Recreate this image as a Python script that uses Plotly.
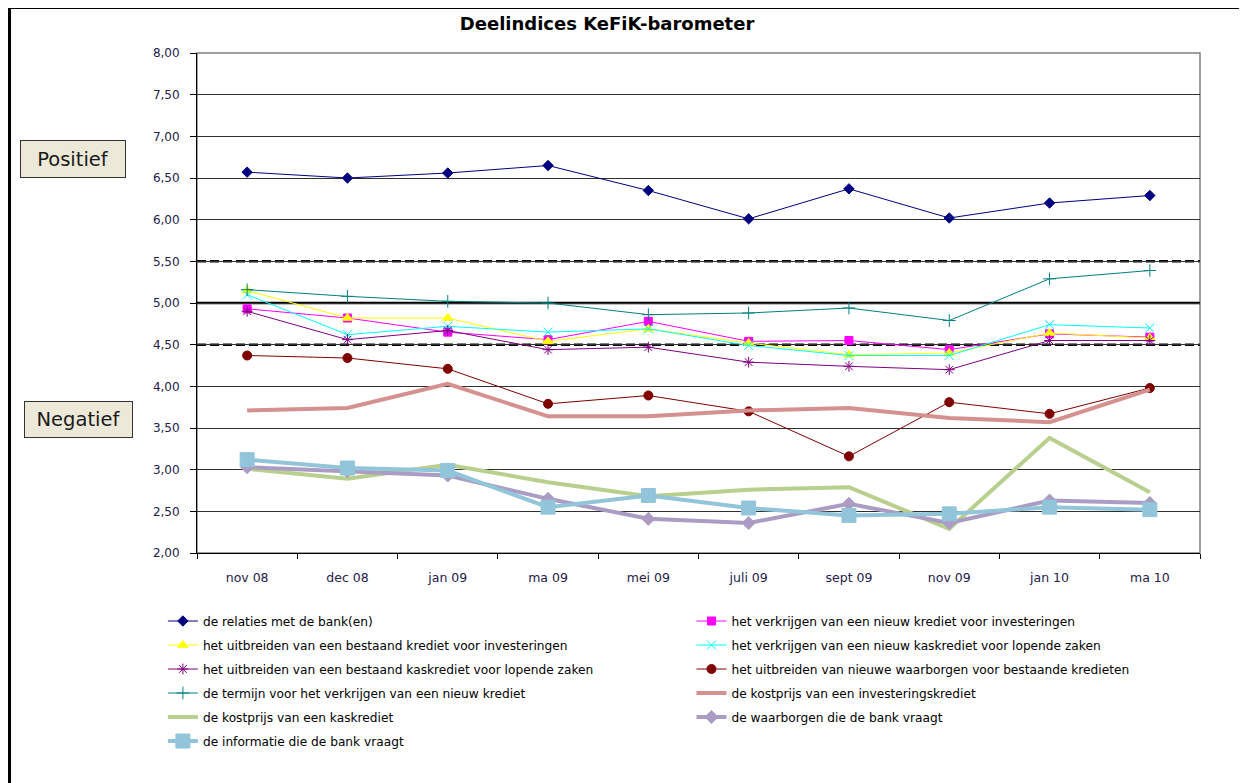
import plotly.graph_objects as go

categories = ["nov 08", "dec 08", "jan 09", "ma 09", "mei 09", "juli 09", "sept 09", "nov 09", "jan 10", "ma 10"]

relaties_bank = [6.57, 6.50, 6.56, 6.65, 6.35, 6.01, 6.37, 6.02, 6.20, 6.29]
nieuw_krediet_invest = [4.93, 4.82, 4.65, 4.56, 4.78, 4.54, 4.55, 4.44, 4.63, 4.59]
uitbreiden_krediet_invest = [5.15, 4.82, 4.82, 4.54, 4.69, 4.52, 4.38, 4.40, 4.64, 4.58]
nieuw_kaskrediet = [5.10, 4.62, 4.72, 4.65, 4.69, 4.49, 4.37, 4.37, 4.74, 4.70]
uitbreiden_kaskrediet = [4.90, 4.56, 4.67, 4.44, 4.47, 4.29, 4.24, 4.20, 4.55, 4.55]
nieuwe_waarborgen = [4.37, 4.34, 4.21, 3.79, 3.89, 3.70, 3.16, 3.81, 3.67, 3.98]
termijn_krediet = [5.16, 5.08, 5.02, 5.00, 4.86, 4.88, 4.94, 4.79, 5.29, 5.39]
kostprijs_invest = [3.71, 3.74, 4.03, 3.64, 3.64, 3.71, 3.74, 3.62, 3.57, 3.96]
kostprijs_kas = [3.01, 2.89, 3.06, 2.85, 2.68, 2.76, 2.79, 2.29, 3.38, 2.73]
waarborgen_bank = [3.03, 2.98, 2.93, 2.65, 2.41, 2.36, 2.59, 2.36, 2.63, 2.60]
informatie_bank = [3.12, 3.02, 2.99, 2.55, 2.69, 2.54, 2.45, 2.47, 2.55, 2.52]

y_ticks = [2.0, 2.5, 3.0, 3.5, 4.0, 4.5, 5.0, 5.5, 6.0, 6.5, 7.0, 7.5, 8.0]
neutral_line = 5.0
band_lines = [4.5, 5.5]

series = [
    ("de relaties met de bank(en)", relaties_bank, "#000080", 1, "diamond", 8, "legend"),
    ("het verkrijgen van een nieuw krediet voor investeringen", nieuw_krediet_invest, "#FF00FF", 1, "square", 8, "legend2"),
    ("het uitbreiden van een bestaand krediet voor investeringen", uitbreiden_krediet_invest, "#FFFF00", 1, "triangle-up", 9, "legend"),
    ("het verkrijgen van een nieuw kaskrediet voor lopende zaken", nieuw_kaskrediet, "#00FFFF", 1, "x-thin-open", 9, "legend2"),
    ("het uitbreiden van een bestaand kaskrediet voor lopende zaken", uitbreiden_kaskrediet, "#800080", 1, "asterisk-open", 9, "legend"),
    ("het uitbreiden van nieuwe waarborgen voor bestaande kredieten", nieuwe_waarborgen, "#800000", 1, "circle", 9, "legend2"),
    ("de termijn voor het verkrijgen van een nieuw krediet", termijn_krediet, "#008080", 1, "cross-thin-open", 9, "legend"),
    ("de kostprijs van een investeringskrediet", kostprijs_invest, "#D4918F", 4, None, 0, "legend2"),
    ("de kostprijs van een kaskrediet", kostprijs_kas, "#B8CF8E", 4, None, 0, "legend"),
    ("de waarborgen die de bank vraagt", waarborgen_bank, "#AB9CC3", 4, "diamond", 10, "legend2"),
    ("de informatie die de bank vraagt", informatie_bank, "#92C5DA", 4, "square", 14, "legend"),
]

fig = go.Figure()
for i, (name, vals, color, lw, sym, size, leg) in enumerate(series):
    if sym is None:
        mode = "lines"
        marker = None
    else:
        mode = "lines+markers"
        marker = dict(symbol=sym, size=size, color=color, line=dict(color=color, width=1))
    fig.add_trace(go.Scatter(
        x=categories, y=vals, name=name, mode=mode,
        line=dict(color=color, width=lw),
        marker=marker, legend=leg, legendgroup=f"g{i}",
    ))

shapes = [
    dict(type="rect", xref="paper", yref="paper", x0=0, x1=1, y0=0, y1=1,
         line=dict(color="#808080", width=1.5), layer="below"),
    dict(type="rect", xref="paper", yref="paper", x0=-0.1874, x1=1.08, y0=-0.6, y1=1.092,
         line=dict(color="black", width=4), layer="above"),
    dict(type="line", xref="paper", yref="y", x0=0, x1=1, y0=neutral_line, y1=neutral_line,
         line=dict(color="black", width=2.5), layer="below"),
]
for b in band_lines:
    shapes.append(dict(type="line", xref="paper", yref="y", x0=0, x1=1, y0=b, y1=b,
                       line=dict(color="white", width=3), layer="below"))
    shapes.append(dict(type="line", xref="paper", yref="y", x0=0, x1=1, y0=b, y1=b,
                       line=dict(color="black", width=2.5, dash="9px,4px"), layer="below"))

box_font = dict(family="DejaVu Sans", size=19.5, color="#1a1a1a")
annotations = [
    dict(text="Positief", xref="paper", yref="paper", x=-0.1236, y=0.788,
         xanchor="center", yanchor="middle", showarrow=False, font=box_font,
         bgcolor="#ECE9D8", bordercolor="#333333", borderwidth=1, width=102, height=34),
    dict(text="Negatief", xref="paper", yref="paper", x=-0.1181, y=0.268,
         xanchor="center", yanchor="middle", showarrow=False, font=box_font,
         bgcolor="#ECE9D8", bordercolor="#333333", borderwidth=1, width=105, height=33),
]

legend_common = dict(
    orientation="v", yanchor="top", y=-0.107, xanchor="left",
    font=dict(family="DejaVu Sans", size=12.2, color="black"),
    bgcolor="rgba(0,0,0,0)", borderwidth=0, tracegroupgap=5, itemwidth=30,
)

fig.update_layout(
    width=1239, height=775, autosize=False,
    paper_bgcolor="white", plot_bgcolor="white",
    margin=dict(l=189, r=47, t=45, b=230),
    separators=",.",
    title=dict(text="Deelindices KeFiK-barometer", x=0.4835, xanchor="center",
               y=1 - 16 / 775, yanchor="middle", xref="container", yref="container",
               font=dict(family="DejaVu Sans", size=18, color="black", weight="bold")),
    xaxis=dict(type="category", range=[-0.5, 9.5], tickson="boundaries", ticks="outside",
               ticklen=5, tickcolor="black", showline=True, linecolor="black", linewidth=1,
               showgrid=False, ticklabelstandoff=13,
               tickfont=dict(family="DejaVu Sans", size=12.5, color="#24204a")),
    yaxis=dict(range=[2, 8], tickvals=y_ticks, tickformat=".2f", ticks="outside", ticklen=6,
               tickcolor="black", showline=True, linecolor="black", linewidth=1,
               showgrid=True, gridcolor="#303030", gridwidth=1, zeroline=False,
               ticklabelstandoff=8,
               tickfont=dict(family="DejaVu Sans", size=12, color="#24204a")),
    legend=dict(legend_common, x=-0.034),
    legend2=dict(legend_common, x=0.493),
    shapes=shapes,
    annotations=annotations,
    showlegend=True,
)

fig.write_html("out.html")
